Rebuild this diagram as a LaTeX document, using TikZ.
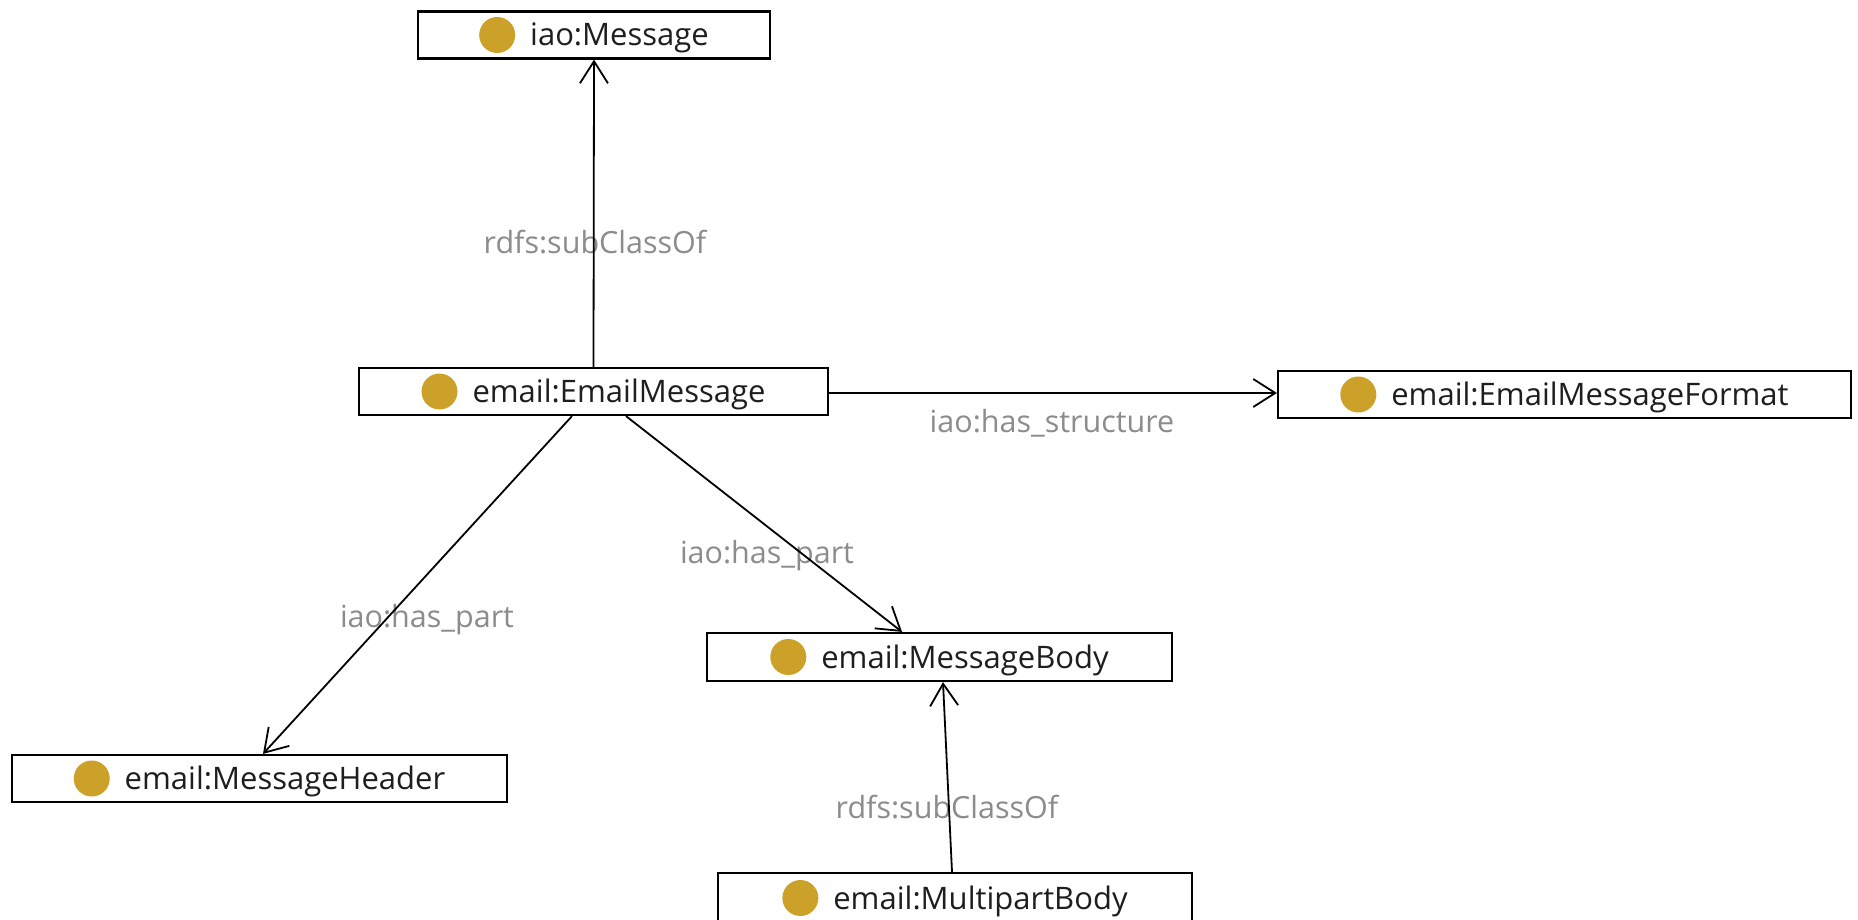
\documentclass[tikz,border=0pt]{standalone}
\usepackage{fontspec}
\setmainfont{Open Sans}
\usetikzlibrary{arrows.meta}
\definecolor{clsgold}{RGB}{204,161,42}
\definecolor{lblgray}{RGB}{140,140,140}
\definecolor{txtdark}{RGB}{30,30,30}
\newcommand\clsname[1]{\raisebox{-7pt}{\tikz\fill[clsgold] (0,0) circle (18pt);}\hspace{15pt}#1}
\begin{document}
\begin{tikzpicture}[x=1pt,y=-1pt,
  cls/.style={draw=black, line width=2.2pt, fill=white, inner sep=0pt,
    minimum height=47pt, text height=30pt, text depth=8pt,
    font=\fontsize{31}{36}\selectfont, text=txtdark},
  rel/.style={line width=1.8pt, draw=black,
    -{Straight Barb[length=22pt,width=28pt,line width=1.8pt]}},
  lbl/.style={font=\fontsize{30.5}{36}\selectfont, text=lblgray, inner sep=0pt}]
\useasboundingbox (0,0) rectangle (1858,920);
\fill[white] (0,0) rectangle (1858,920);
\clip (0,0) rectangle (1858,920);

\node[cls, minimum width=352pt] (msg) at (594,35) {\clsname{iao:Message}};
\node[cls, minimum width=469pt] (em) at (593.5,391.5) {\clsname{email:EmailMessage}};
\node[cls, minimum width=573pt] (fmt) at (1564.5,394.5) {\clsname{email:EmailMessageFormat}};
\node[cls, minimum width=465pt, minimum height=48pt] (body) at (939.5,657) {\clsname{email:MessageBody}};
\node[cls, minimum width=495pt] (header) at (259.5,778.5) {\clsname{email:MessageHeader}};
\node[cls, minimum width=474pt, minimum height=50pt] (multi) at (955,898) {\clsname{email:MultipartBody}};

\node[lbl] (l1) at (595,242) {rdfs:subClassOf};
\node[lbl] (l2) at (1052,423) {iao:has\_structure};
\node[lbl] (l3) at (427,620) {iao:has\_part};
\node[lbl] (l4) at (767,556) {iao:has\_part};
\node[lbl] (l5) at (947,807) {rdfs:subClassOf};

\draw[rel] (em.north) -- (msg.south);
\draw[rel] ([yshift=-1.5pt]em.east) -- ([yshift=1.5pt]fmt.west);
\draw[rel] ([xshift=-21.5pt]em.south) -- ([xshift=3.5pt]header.north);
\draw[rel] ([xshift=32.5pt]em.south) -- ([xshift=-37.5pt]body.north);
\draw[rel] ([xshift=-3pt]multi.north) -- ([xshift=3.5pt]body.south);
\end{tikzpicture}
\end{document}
